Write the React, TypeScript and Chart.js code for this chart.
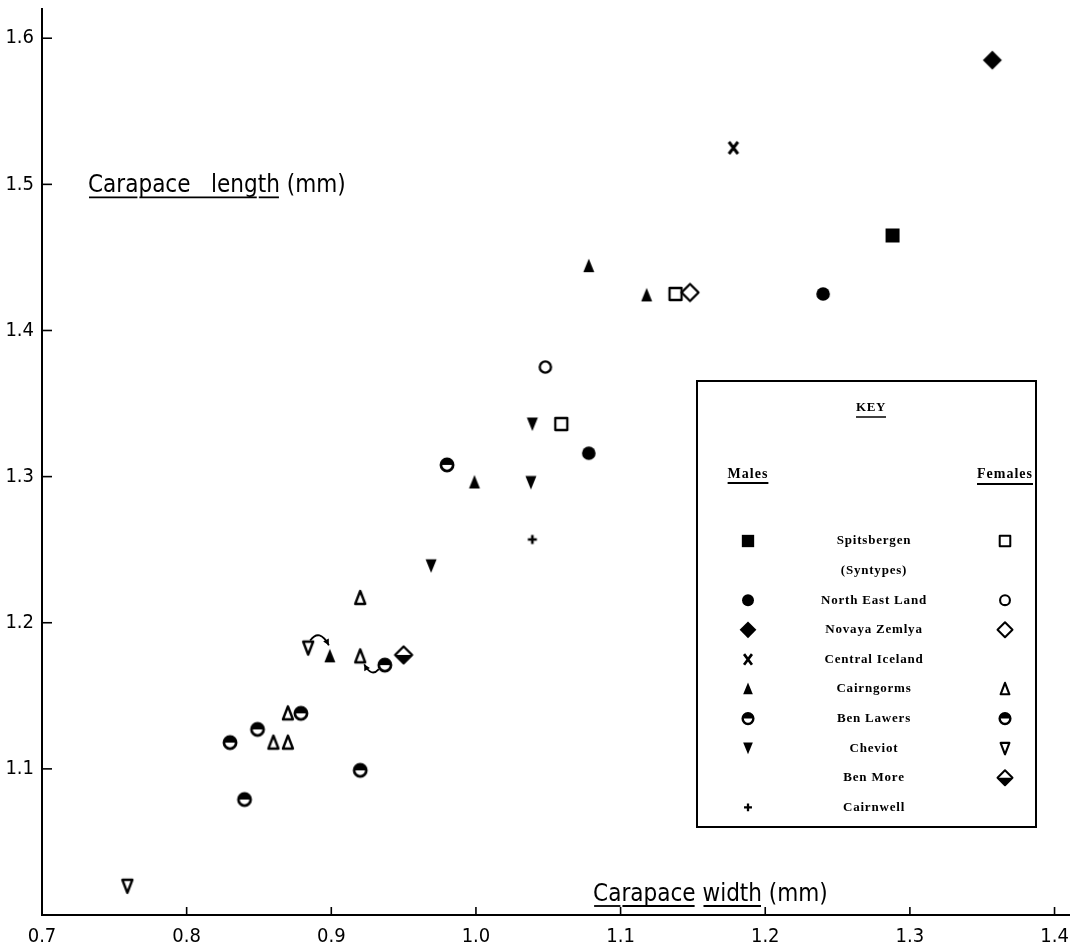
import React, { useEffect, useRef } from "react";
import { Chart, registerables } from "chart.js";

Chart.register(...registerables);

// ---- axis ticks ----
const X_TICKS = [0.7, 0.8, 0.9, 1.0, 1.1, 1.2, 1.3, 1.4];
const Y_TICKS = [1.1, 1.2, 1.3, 1.4, 1.5, 1.6];

// ---- data: carapace width (W) / carapace length (L), mm ----
const SPITS_M_W = [1.288];
const SPITS_M_L = [1.465];
const SPITS_F_W = [1.138, 1.059];
const SPITS_F_L = [1.425, 1.336];

const NEL_M_W = [1.24, 1.078];
const NEL_M_L = [1.425, 1.316];
const NEL_F_W = [1.048];
const NEL_F_L = [1.375];

const NOVAYA_M_W = [1.357];
const NOVAYA_M_L = [1.585];
const NOVAYA_F_W = [1.148];
const NOVAYA_F_L = [1.426];

const ICELAND_M_W = [1.178];
const ICELAND_M_L = [1.525];

const CAIRNGORMS_M_W = [1.078, 1.118, 0.999, 0.899];
const CAIRNGORMS_M_L = [1.444, 1.424, 1.296, 1.177];
const CAIRNGORMS_F_W = [0.92, 0.92, 0.87, 0.86, 0.87];
const CAIRNGORMS_F_L = [1.217, 1.177, 1.138, 1.118, 1.118];

const LAWERS_W = [0.98, 0.937, 0.879, 0.849, 0.83, 0.92, 0.84];
const LAWERS_L = [1.308, 1.171, 1.138, 1.127, 1.118, 1.099, 1.079];

const CHEVIOT_M_W = [1.039, 1.038, 0.969];
const CHEVIOT_M_L = [1.336, 1.296, 1.239];
const CHEVIOT_F_W = [0.884, 0.759];
const CHEVIOT_F_L = [1.183, 1.02];

const BENMORE_F_W = [0.95];
const BENMORE_F_L = [1.178];

const CAIRNWELL_M_W = [1.039];
const CAIRNWELL_M_L = [1.257];

// ---- key rows ----
const KEY_NAMES = [
  "Spitsbergen",
  "(Syntypes)",
  "North East Land",
  "Novaya Zemlya",
  "Central Iceland",
  "Cairngorms",
  "Ben Lawers",
  "Cheviot",
  "Ben More",
  "Cairnwell",
];
const KEY_MALE = ["sqFill", "", "circFill", "diaFill", "xMark", "triFill", "halfCirc", "triDownFill", "", "plus"];
const KEY_FEMALE = ["sqOpen", "", "circOpen", "diaOpen", "", "triOpen", "halfCirc", "triDownOpen", "diaHalf", ""];

// arrows linking points: [fromW, fromL, toW, toL]
const ARROW_A = [0.884, 1.183, 0.899, 1.177];
const ARROW_B = [0.937, 1.171, 0.92, 1.177];

function drawMarker(ctx: CanvasRenderingContext2D, kind: string, x: number, y: number, s: number) {
  ctx.save();
  ctx.translate(x, y);
  ctx.scale(s, s);
  ctx.fillStyle = "#000";
  ctx.strokeStyle = "#000";
  ctx.lineJoin = "round";
  ctx.lineCap = "round";
  const P = Math.PI;
  switch (kind) {
    case "sqFill":
      ctx.fillRect(-7, -7, 14, 14);
      break;
    case "sqOpen":
      ctx.lineWidth = 2.3;
      ctx.strokeRect(-6, -6, 12, 12);
      break;
    case "circFill":
      ctx.beginPath();
      ctx.arc(0, 0, 6.8, 0, 2 * P);
      ctx.fill();
      break;
    case "circOpen":
      ctx.lineWidth = 2.4;
      ctx.beginPath();
      ctx.arc(0, 0, 5.6, 0, 2 * P);
      ctx.stroke();
      break;
    case "diaFill":
      ctx.beginPath();
      ctx.moveTo(0, -9.5);
      ctx.lineTo(9.5, 0);
      ctx.lineTo(0, 9.5);
      ctx.lineTo(-9.5, 0);
      ctx.closePath();
      ctx.fill();
      break;
    case "diaOpen":
      ctx.lineWidth = 2.3;
      ctx.beginPath();
      ctx.moveTo(0, -8.5);
      ctx.lineTo(8.5, 0);
      ctx.lineTo(0, 8.5);
      ctx.lineTo(-8.5, 0);
      ctx.closePath();
      ctx.stroke();
      break;
    case "diaHalf":
      ctx.beginPath();
      ctx.moveTo(-8.5, 0);
      ctx.lineTo(8.5, 0);
      ctx.lineTo(0, 8.5);
      ctx.closePath();
      ctx.fill();
      ctx.lineWidth = 2.3;
      ctx.beginPath();
      ctx.moveTo(0, -8.5);
      ctx.lineTo(8.5, 0);
      ctx.lineTo(0, 8.5);
      ctx.lineTo(-8.5, 0);
      ctx.closePath();
      ctx.stroke();
      break;
    case "xMark":
      ctx.lineWidth = 3;
      ctx.lineCap = "butt";
      ctx.beginPath();
      ctx.moveTo(-4.5, -6);
      ctx.lineTo(4.5, 6);
      ctx.moveTo(4.5, -6);
      ctx.lineTo(-4.5, 6);
      ctx.stroke();
      break;
    case "triFill":
      ctx.beginPath();
      ctx.moveTo(0, -7.5);
      ctx.lineTo(5.5, 6);
      ctx.lineTo(-5.5, 6);
      ctx.closePath();
      ctx.fill();
      break;
    case "triOpen":
      ctx.lineWidth = 2.4;
      ctx.beginPath();
      ctx.moveTo(0, -7);
      ctx.lineTo(5, 6);
      ctx.lineTo(-5, 6);
      ctx.closePath();
      ctx.stroke();
      break;
    case "triDownFill":
      ctx.beginPath();
      ctx.moveTo(-5.5, -6.5);
      ctx.lineTo(5.5, -6.5);
      ctx.lineTo(0, 7);
      ctx.closePath();
      ctx.fill();
      break;
    case "triDownOpen":
      ctx.lineWidth = 2.4;
      ctx.beginPath();
      ctx.moveTo(-5, -6);
      ctx.lineTo(5, -6);
      ctx.lineTo(0, 7);
      ctx.closePath();
      ctx.stroke();
      break;
    case "halfCirc":
      ctx.beginPath();
      ctx.arc(0, 0, 6.6, P, 2 * P);
      ctx.closePath();
      ctx.fill();
      ctx.lineWidth = 2.7;
      ctx.beginPath();
      ctx.arc(0, 0, 6.1, 0, 2 * P);
      ctx.stroke();
      break;
    case "plus":
      ctx.lineWidth = 2.6;
      ctx.lineCap = "butt";
      ctx.beginPath();
      ctx.moveTo(-4.5, 0);
      ctx.lineTo(4.5, 0);
      ctx.moveTo(0, -4.5);
      ctx.lineTo(0, 4.5);
      ctx.stroke();
      break;
  }
  ctx.restore();
}

function markerImage(kind: string): HTMLCanvasElement {
  const c = document.createElement("canvas");
  c.width = 26;
  c.height = 26;
  const ctx = c.getContext("2d") as CanvasRenderingContext2D;
  drawMarker(ctx, kind, 13, 13, 1);
  return c;
}

function pts(w: number[], l: number[]) {
  return w.map((v, i) => ({ x: v, y: l[i] }));
}

function drawArrowHead(ctx: CanvasRenderingContext2D, x: number, y: number, ang: number) {
  const len = 6;
  const half = 3.2;
  ctx.save();
  ctx.translate(x, y);
  ctx.rotate(ang);
  ctx.beginPath();
  ctx.moveTo(0, 0);
  ctx.lineTo(-len, -half);
  ctx.lineTo(-len, half);
  ctx.closePath();
  ctx.fill();
  ctx.restore();
}

const customDraw = {
  id: "customDraw",
  afterDraw(chart: any) {
    const ctx: CanvasRenderingContext2D = chart.ctx;
    const xs = chart.scales.x;
    const ys = chart.scales.y;
    const ca = chart.chartArea;
    ctx.save();
    ctx.strokeStyle = "#000";
    ctx.fillStyle = "#000";

    // inward tick marks
    ctx.lineWidth = 1.6;
    Y_TICKS.forEach((v) => {
      const py = ys.getPixelForValue(v);
      ctx.beginPath();
      ctx.moveTo(ca.left, py);
      ctx.lineTo(ca.left + 10, py);
      ctx.stroke();
    });
    X_TICKS.slice(1).forEach((v) => {
      const px = xs.getPixelForValue(v);
      ctx.beginPath();
      ctx.moveTo(px, ca.bottom);
      ctx.lineTo(px, ca.bottom - 8);
      ctx.stroke();
    });

    // axis titles (with hand-drawn style underline segments)
    const titleFont = '24px "DejaVu Sans Condensed"';
    const drawTitle = (text: string, x: number, y: number, segs: number[][]) => {
      ctx.font = titleFont;
      ctx.textAlign = "left";
      ctx.textBaseline = "alphabetic";
      ctx.fillText(text, x, y);
      ctx.lineWidth = 1.8;
      segs.forEach(([a, b]) => {
        const x0 = x + ctx.measureText(text.slice(0, a)).width + 1;
        const x1 = x + ctx.measureText(text.slice(0, b)).width - 1;
        ctx.beginPath();
        ctx.moveTo(x0, y + 5);
        ctx.lineTo(x1, y + 5);
        ctx.stroke();
      });
    };
    drawTitle("Carapace   length (mm)", ca.left + 46, ys.getPixelForValue(1.5) + 8, [
      [0, 4],
      [4, 15],
      [15, 17],
    ]);
    drawTitle("Carapace width (mm)", xs.getPixelForValue(1.081), ca.bottom - 14, [
      [0, 2],
      [2, 8],
      [9, 14],
    ]);

    // arrows
    ctx.lineWidth = 1.8;
    const arrow = (a: number[], sx: number, sy: number, ex: number, ey: number, cxo: number, cyo: number) => {
      const fx = xs.getPixelForValue(a[0]) + sx;
      const fy = ys.getPixelForValue(a[1]) + sy;
      const tx = xs.getPixelForValue(a[2]) + ex;
      const ty = ys.getPixelForValue(a[3]) + ey;
      const cx = (fx + tx) / 2 + cxo;
      const cy = (fy + ty) / 2 + cyo;
      ctx.beginPath();
      ctx.moveTo(fx, fy);
      ctx.quadraticCurveTo(cx, cy, tx, ty);
      ctx.stroke();
      drawArrowHead(ctx, tx, ty, Math.atan2(ty - cy, tx - cx));
    };
    arrow(ARROW_A, 2, -7, -1, -11, 0, -15);
    arrow(ARROW_B, -6, 4, 4, 8, 0, 11);

    // key box
    const bx = 697;
    const by = 381;
    const bw = 339;
    const bh = 446;
    ctx.lineWidth = 2;
    ctx.strokeRect(bx, by, bw, bh);
    const maleX = bx + 51;
    const femX = bx + 308;
    const nameX = bx + 177;
    ctx.textAlign = "center";
    ctx.textBaseline = "middle";
    (ctx as any).letterSpacing = "0.6px";
    ctx.font = 'bold 13px "Liberation Serif"';
    ctx.fillText("KEY", nameX - 3, by + 27);
    let w = ctx.measureText("KEY").width;
    ctx.lineWidth = 1.5;
    ctx.beginPath();
    ctx.moveTo(nameX - 3 - w / 2, by + 36);
    ctx.lineTo(nameX - 3 + w / 2, by + 36);
    ctx.stroke();
    (ctx as any).letterSpacing = "1px";
    ctx.font = 'bold 14px "Liberation Serif"';
    ctx.fillText("Males", maleX, by + 93);
    w = ctx.measureText("Males").width;
    ctx.lineWidth = 2;
    ctx.beginPath();
    ctx.moveTo(maleX - w / 2, by + 102);
    ctx.lineTo(maleX + w / 2, by + 102);
    ctx.stroke();
    ctx.fillText("Females", femX, by + 93);
    w = ctx.measureText("Females").width;
    ctx.beginPath();
    ctx.moveTo(femX - w / 2, by + 103);
    ctx.lineTo(femX + w / 2, by + 103);
    ctx.stroke();

    ctx.font = 'bold 13px "Liberation Serif"';
    (ctx as any).letterSpacing = "0.8px";
    KEY_NAMES.forEach((name, i) => {
      const ry = by + 160 + i * 29.6;
      ctx.fillText(name, nameX, ry);
      if (KEY_MALE[i]) drawMarker(ctx, KEY_MALE[i], maleX, ry, 0.88);
      if (KEY_FEMALE[i]) drawMarker(ctx, KEY_FEMALE[i], femX, ry, 0.88);
    });
    (ctx as any).letterSpacing = "0px";
    ctx.restore();
  },
};

export default function App() {
  const ref = useRef<HTMLCanvasElement | null>(null);

  useEffect(() => {
    if (!ref.current) return;
    const series = [
      { label: "Spitsbergen male", kind: "sqFill", data: pts(SPITS_M_W, SPITS_M_L) },
      { label: "Spitsbergen female", kind: "sqOpen", data: pts(SPITS_F_W, SPITS_F_L) },
      { label: "North East Land male", kind: "circFill", data: pts(NEL_M_W, NEL_M_L) },
      { label: "North East Land female", kind: "circOpen", data: pts(NEL_F_W, NEL_F_L) },
      { label: "Novaya Zemlya male", kind: "diaFill", data: pts(NOVAYA_M_W, NOVAYA_M_L) },
      { label: "Novaya Zemlya female", kind: "diaOpen", data: pts(NOVAYA_F_W, NOVAYA_F_L) },
      { label: "Central Iceland male", kind: "xMark", data: pts(ICELAND_M_W, ICELAND_M_L) },
      { label: "Cairngorms male", kind: "triFill", data: pts(CAIRNGORMS_M_W, CAIRNGORMS_M_L) },
      { label: "Cairngorms female", kind: "triOpen", data: pts(CAIRNGORMS_F_W, CAIRNGORMS_F_L) },
      { label: "Ben Lawers", kind: "halfCirc", data: pts(LAWERS_W, LAWERS_L) },
      { label: "Cheviot male", kind: "triDownFill", data: pts(CHEVIOT_M_W, CHEVIOT_M_L) },
      { label: "Cheviot female", kind: "triDownOpen", data: pts(CHEVIOT_F_W, CHEVIOT_F_L) },
      { label: "Ben More female", kind: "diaHalf", data: pts(BENMORE_F_W, BENMORE_F_L) },
      { label: "Cairnwell male", kind: "plus", data: pts(CAIRNWELL_M_W, CAIRNWELL_M_L) },
    ];
    const datasets = series.map((s) => ({
      label: s.label,
      data: s.data,
      pointStyle: markerImage(s.kind),
      pointRadius: 8,
      backgroundColor: "#000",
      borderColor: "#000",
      showLine: false,
    }));

    const tickFont = { family: '"DejaVu Sans Condensed", sans-serif', size: 20 };
    const chart = new Chart(ref.current, {
      type: "scatter",
      data: { datasets },
      options: {
        animation: false,
        responsive: true,
        maintainAspectRatio: false,
        layout: { padding: { top: 7, right: 4, left: 0, bottom: 0 } },
        plugins: {
          legend: { display: false },
          tooltip: { enabled: false },
          title: { display: false },
        },
        scales: {
          x: {
            type: "linear",
            min: 0.7,
            max: 1.41,
            afterBuildTicks: (s: any) => {
              s.ticks = X_TICKS.map((v) => ({ value: v }));
            },
            afterFit: (s: any) => {
              s.height = 31;
              s.paddingLeft = 0;
              s.paddingRight = 0;
            },
            ticks: {
              font: tickFont,
              color: "#000",
              padding: 10,
              maxRotation: 0,
              autoSkip: false,
              callback: (v: any) => Number(v).toFixed(1),
            },
            grid: { display: false, drawTicks: false },
            border: { display: true, color: "#000", width: 2 },
          },
          y: {
            type: "linear",
            min: 1.0,
            max: 1.62,
            afterBuildTicks: (s: any) => {
              s.ticks = Y_TICKS.map((v) => ({ value: v }));
            },
            afterFit: (s: any) => {
              s.width = 42;
              s.paddingTop = 0;
              s.paddingBottom = 0;
            },
            ticks: {
              font: tickFont,
              color: "#000",
              padding: 8,
              autoSkip: false,
              callback: (v: any) => Number(v).toFixed(1),
            },
            grid: { display: false, drawTicks: false },
            border: { display: true, color: "#000", width: 2 },
          },
        },
      },
      plugins: [customDraw],
    } as any);
    return () => chart.destroy();
  }, []);

  return (
    <div style={{ position: "fixed", left: 0, top: 0, width: 1078, height: 946, background: "#fff" }}>
      <canvas ref={ref} />
    </div>
  );
}
